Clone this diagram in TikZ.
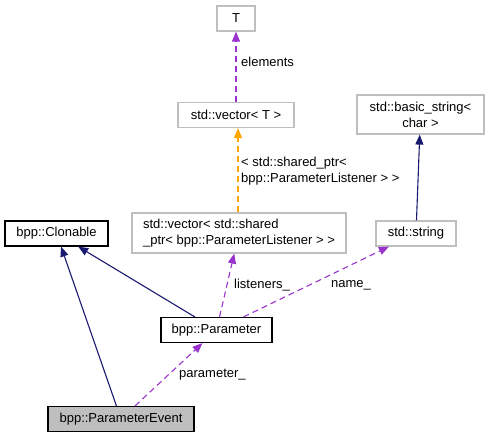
\documentclass[tikz,border=0pt]{standalone}
\usepackage{fontspec}
\setmainfont{Liberation Sans}
\usetikzlibrary{arrows.meta}

\definecolor{edgepurple}{HTML}{9A32CD}
\definecolor{edgeorange}{HTML}{FFA500}
\definecolor{edgenavy}{HTML}{191970}

\tikzset{
  cls/.style={draw=black!25, fill=white, line width=1.2pt, inner sep=0pt, minimum height=25pt},
  doc/.style={cls, draw=black},
  self/.style={doc, fill=black!25},
  inherit/.style={draw=edgenavy, line width=1.1pt, -{Triangle[length=10pt,width=8pt]}},
  member/.style={draw=edgepurple, line width=1.1pt, dash pattern=on 6pt off 4pt, -{Triangle[length=10pt,width=8pt]}},
  templ/.style={draw=edgeorange, line width=1.1pt, dash pattern=on 6pt off 4pt, -{Triangle[length=10pt,width=8pt]}},
  lbl/.style={anchor=west, inner sep=0pt}
}

\begin{document}
\begin{tikzpicture}[x=1pt, y=-1pt, line cap=butt, font=\fontsize{13}{16}\selectfont]
  \useasboundingbox (0,0) rectangle (489,439);
  % Template chain at the top.
  \node[cls, minimum width=38pt] (t) at (236,18.5) {T};
  \node[cls, minimum width=116pt] (vect) at (236,115) {std::vector< T >};
  \node[cls, minimum width=214pt, minimum height=40pt, align=left] (vecl) at (239,233)
    {std::vector< std::shared\\\_ptr< bpp::ParameterListener > >};
  % String side.
  \node[cls, minimum width=127pt, minimum height=39pt, align=center] (bstr) at (420.5,114.5)
    {std::basic\_string<\\char >};
  \node[cls, minimum width=80pt] (str) at (416,233.5) {std::string};
  % Classes.
  \node[doc, minimum width=103pt] (clon) at (56.5,233.5) {bpp::Clonable};
  \node[doc, minimum width=111pt] (param) at (216.5,330) {bpp::Parameter};
  \node[self, minimum width=146pt] (event) at (121,419) {bpp::ParameterEvent};

  % Members and template arguments.
  \draw[member] (vect) -- (t);
  \node[lbl] at (241,62) {elements};
  \draw[templ] (vecl.north -| 238,0) -- (vect.south -| 238,0);
  \node[lbl, align=left] at (241,171) {< std::shared\_ptr<\\bpp::ParameterListener > >};
  \draw[inherit] (str) -- (bstr);
  % Parameter.
  \draw[inherit] (param) -- (clon);
  \draw[member] (param) -- (vecl);
  \node[lbl] at (234,285) {listeners\_};
  \draw[member] (param) -- (str);
  \node[lbl] at (331,285) {name\_};
  % Event.
  \draw[inherit] (event) -- (clon);
  \draw[member] (event) -- (param);
  \node[lbl] at (179,375) {parameter\_};
\end{tikzpicture}
\end{document}
